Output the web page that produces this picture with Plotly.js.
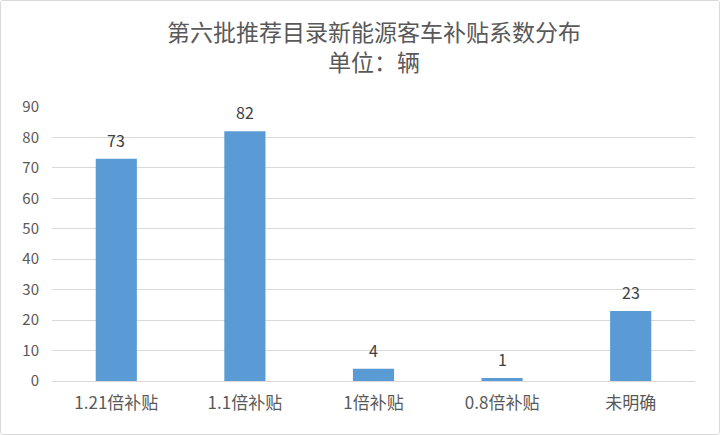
<!DOCTYPE html>
<html>
<head>
<meta charset="utf-8">
<script src="https://cdn.plot.ly/plotly-3.0.1.min.js"></script>
<style>
  html, body { margin: 0; padding: 0; background: #ffffff; }
  #wrap { width: 718px; height: 433px; border: 1px solid #d9d9d9; border-radius: 3px; overflow: hidden; }
  #chart { width: 718px; height: 433px; }
</style>
</head>
<body>
<div id="wrap"><div id="chart"></div></div>
<script>
const categories = ["1.21倍补贴", "1.1倍补贴", "1倍补贴", "0.8倍补贴", "未明确"];
const counts = [73, 82, 4, 1, 23];
const yTicks = [0, 10, 20, 30, 40, 50, 60, 70, 80, 90];
const titleLines = ["第六批推荐目录新能源客车补贴系数分布", "单位：辆"];

const FONT = '"Noto Sans CJK SC", "Noto Sans", sans-serif';

const trace = {
  type: "bar",
  x: categories,
  y: counts,
  marker: { color: "#5b9bd5" },
  hoverinfo: "none"
};

// data labels above each bar
const labelAnnotations = categories.map((c, i) => ({
  x: c,
  y: counts[i],
  xref: "x",
  yref: "y",
  text: String(counts[i]),
  showarrow: false,
  xanchor: "center",
  yanchor: "bottom",
  yshift: 5,
  font: { family: FONT, size: 16, color: "#404040" }
}));

const titleAnnotation = {
  x: 0.5,
  xref: "paper",
  y: 1.2215,
  yref: "paper",
  text: titleLines.join("<br>"),
  showarrow: false,
  xanchor: "center",
  yanchor: "middle",
  align: "center",
  font: { family: FONT, size: 23, color: "#595959" }
};

const layout = {
  width: 718,
  height: 433,
  margin: { l: 51, r: 24, t: 106, b: 53 },
  paper_bgcolor: "#ffffff",
  plot_bgcolor: "#ffffff",
  font: { family: FONT, color: "#595959" },
  bargap: 0.68,
  showlegend: false,
  annotations: [titleAnnotation].concat(labelAnnotations),
  xaxis: {
    type: "category",
    showgrid: false,
    showline: true,
    linecolor: "#d9d9d9",
    linewidth: 1,
    ticks: "",
    tickfont: { family: FONT, size: 17, color: "#595959" },
    ticklabelstandoff: 7
  },
  yaxis: {
    range: [0, 90],
    tickvals: yTicks,
    ticktext: yTicks.map(String),
    showgrid: true,
    gridcolor: "#d9d9d9",
    gridwidth: 1,
    zeroline: false,
    showline: false,
    ticks: "",
    tickfont: { family: FONT, size: 15, color: "#595959" },
    ticklabelstandoff: 12
  }
};

Plotly.newPlot("chart", [trace], layout, { displayModeBar: false, staticPlot: true });
</script>
</body>
</html>
